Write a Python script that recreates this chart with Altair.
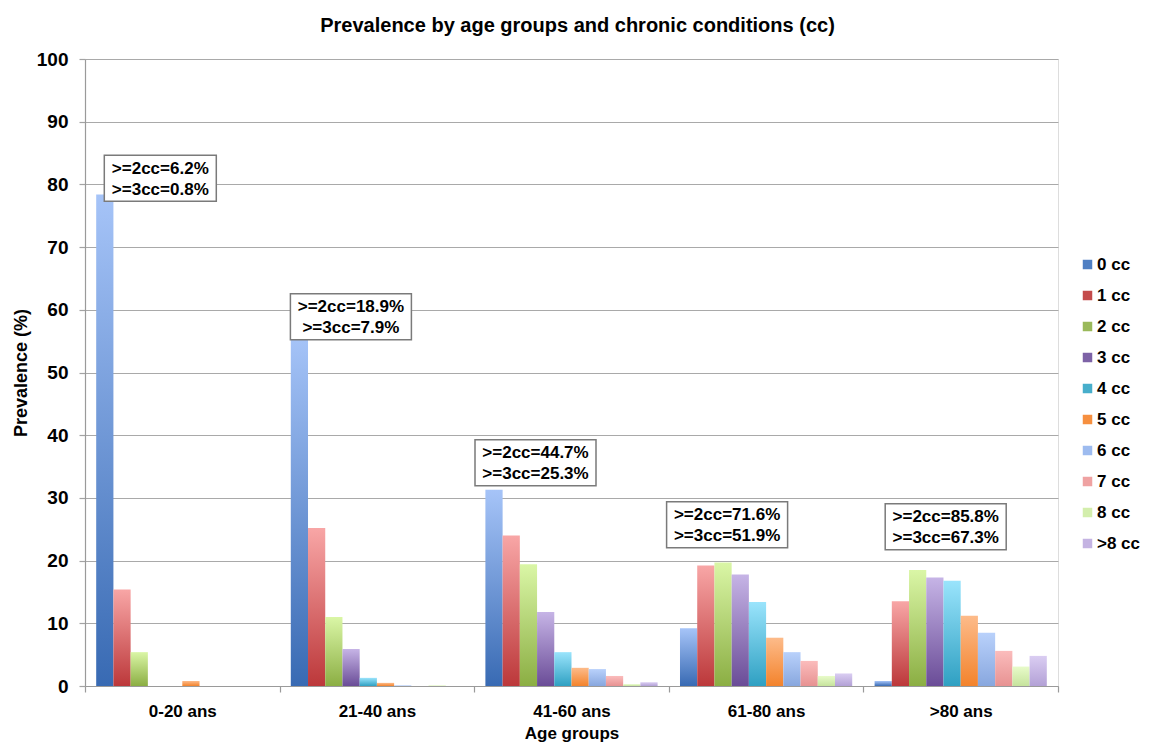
import altair as alt
import pandas as pd

# ---------------- data ----------------
age_groups = ["0-20 ans", "21-40 ans", "41-60 ans", "61-80 ans", ">80 ans"]
series = ["0 cc", "1 cc", "2 cc", "3 cc", "4 cc", "5 cc", "6 cc", "7 cc", "8 cc", ">8 cc"]

v_0_20 = [78.4, 15.4, 5.4, 0.0, 0.0, 0.8, 0.0, 0.0, 0.0, 0.0]
v_21_40 = [55.9, 25.2, 11.0, 5.9, 1.3, 0.5, 0.1, 0.0, 0.1, 0.0]
v_41_60 = [31.3, 24.0, 19.4, 11.8, 5.4, 2.9, 2.7, 1.6, 0.3, 0.6]
v_61_80 = [9.2, 19.2, 19.7, 17.8, 13.4, 7.7, 5.4, 4.0, 1.6, 2.0]
v_80p = [0.8, 13.5, 18.5, 17.3, 16.8, 11.2, 8.5, 5.6, 3.1, 4.8]

ge2cc = [6.2, 18.9, 44.7, 71.6, 85.8]
ge3cc = [0.8, 7.9, 25.3, 51.9, 67.3]

# ---------------- styles ----------------
FONT = "Liberation Sans"
legend_colors = ["#4f7fc3", "#c44b4b", "#9ab95a", "#7d62a6", "#47aecb",
                 "#f68f3f", "#9dbbef", "#efa2a2", "#d3eeac", "#c4b3e2"]
grad_colors = {
    "0 cc": ("#a6c4f8", "#386ab3"),
    "1 cc": ("#f8a6a6", "#bc383a"),
    "2 cc": ("#daf6a6", "#8bae43"),
    "3 cc": ("#c6b4e6", "#6a4c97"),
    "4 cc": ("#9ae4fc", "#2fa0c2"),
    "5 cc": ("#fdbb8a", "#f3832c"),
    "6 cc": ("#b9d1fb", "#88a7de"),
    "7 cc": ("#fbbcbc", "#e79292"),
    "8 cc": ("#e8fbca", "#c6e39d"),
    ">8 cc": ("#dacdf2", "#b3a1d6"),
}
# annotation box layout (pixel offsets from group centre, anchor in axis units)
ann_anchor = [81.0, 58.9, 35.6, 25.7, 25.4]
ann_dx = [-22, -26, -36, -39, -15]
ann_w = [112, 121, 121, 121, 121]
ann_h = 46

rows = []
for age, vals in zip(age_groups, [v_0_20, v_21_40, v_41_60, v_61_80, v_80p]):
    for s, v in zip(series, vals):
        rows.append({"age": age, "series": s, "value": v})
df = pd.DataFrame(rows)

W, H = 973, 627

x_enc = alt.X(
    "age:N",
    sort=age_groups,
    scale=alt.Scale(domain=age_groups, paddingInner=0, paddingOuter=0),
    axis=alt.Axis(
        title="Age groups", labelAngle=0, tickBand="extent", tickSize=6,
        tickColor="#9a9a9a", domainColor="#9a9a9a", tickWidth=1.2, domainWidth=1.2,
        labelFont=FONT, labelFontSize=17, labelFontWeight="bold", labelColor="black",
        labelPadding=11, titleFont=FONT, titleFontSize=17, titleFontWeight="bold",
        titleColor="black", titleY=52, titleBaseline="alphabetic", grid=False,
    ),
)
y_enc = alt.Y(
    "value:Q",
    scale=alt.Scale(domain=[0, 100], nice=False),
    axis=alt.Axis(
        title="Prevalence (%)", values=list(range(0, 101, 10)), tickSize=6,
        tickColor="#a3a3a3", domainColor="#9a9a9a", tickWidth=1.2, domainWidth=1.2,
        gridColor="#a9a9a9", gridWidth=1.2,
        labelFont=FONT, labelFontSize=19, labelFontWeight="bold", labelColor="black",
        labelPadding=11, titleFont=FONT, titleFontSize=18, titleFontWeight="bold",
        titleColor="black", titleX=-64, titleY=H / 2, titleAngle=270,
        titleBaseline="middle", titleAlign="center",
    ),
)
xoff_enc = alt.XOffset(
    "series:N",
    scale=alt.Scale(domain=series, paddingInner=0, paddingOuter=0.65),
)

base = alt.Chart(df)

legend_layer = base.mark_bar(opacity=0).encode(
    x=x_enc, xOffset=xoff_enc, y=y_enc,
    color=alt.Color(
        "series:N",
        scale=alt.Scale(domain=series, range=legend_colors),
        legend=alt.Legend(
            title=None, orient="none", legendX=994, legendY=197,
            symbolType="square", symbolSize=90, symbolOpacity=1, symbolStrokeWidth=0,
            labelFont=FONT, labelFontSize=17, labelFontWeight="bold", labelColor="black",
            rowPadding=13, labelOffset=1,
        ),
    ),
)

layers = [legend_layer]
for s in series:
    light, dark = grad_colors[s]
    grad = alt.Gradient(
        gradient="linear",
        stops=[alt.GradientStop(color=light, offset=0),
               alt.GradientStop(color=dark, offset=1)],
        x1=0, x2=0, y1=0, y2=1,
    )
    layers.append(
        base.transform_filter(alt.datum.series == s)
        .mark_bar(fill=grad)
        .encode(x=x_enc, xOffset=xoff_enc, y=y_enc)
    )

for i, age in enumerate(age_groups):
    adf = pd.DataFrame({
        "age": [age], "value": [ann_anchor[i]],
        "t": [f">=2cc={ge2cc[i]:.1f}%\n>=3cc={ge3cc[i]:.1f}%"],
    })
    r = ann_h / ann_w[i]
    path = f"M-1,-{r:.4f}L1,-{r:.4f}L1,{r:.4f}L-1,{r:.4f}Z"
    layers.append(
        alt.Chart(adf).mark_point(
            shape=path, size=ann_w[i] ** 2, filled=True, fill="white",
            stroke="#7a7a7a", strokeWidth=1.5, opacity=1, xOffset=ann_dx[i],
        ).encode(x=x_enc, y=y_enc)
    )
    layers.append(
        alt.Chart(adf).mark_text(
            font=FONT, fontSize=17, fontWeight="bold", color="black",
            lineBreak="\n", lineHeight=21, align="center", baseline="middle",
            xOffset=ann_dx[i], yOffset=-9.5,
        ).encode(x=x_enc, y=y_enc, text="t:N")
    )

chart = alt.layer(*layers).properties(
    width=W, height=H,
    title=alt.TitleParams(
        "Prevalence by age groups and chronic conditions (cc)",
        font=FONT, fontSize=20, fontWeight="bold", color="black",
        anchor="middle", frame="group", baseline="alphabetic", offset=0, dx=6, dy=2,
    ),
    autosize=alt.AutoSizeParams(type="none"),
    padding={"left": 77, "top": 51, "right": 84, "bottom": 56},
).configure_view(stroke=None).configure(background="white")

chart.save("out.html", embed_options={"renderer": "svg", "actions": False})
